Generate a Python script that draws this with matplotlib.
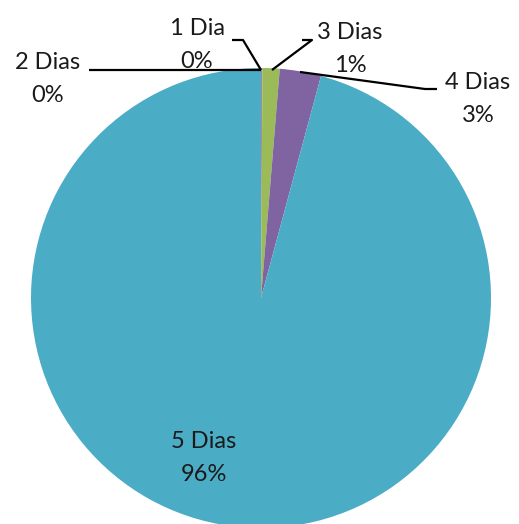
import matplotlib.pyplot as plt

dias = ['1 Dia', '2 Dias', '3 Dias', '4 Dias', '5 Dias']
percent = [0.05, 0.05, 1.2, 2.9, 95.8]
cores = ['#4F81BD', '#C0504D', '#9BBB59', '#8064A2', '#4BACC6']

# posicoes dos rotulos em pixels da imagem (centro x, centro y)
centro = (261, 298)
raio = 230
rotulos_px = [(197, 45), (48, 79), (350, 49), (478, 99), (204, 458)]
linhas_px = [
    [(232, 40), (243, 40), (261, 70)],
    [(89, 70), (261, 70)],
    [(302, 40), (312, 40), (272, 70)],
    [(300, 72), (425, 89), (437, 89)],
    None,
]


def px(p):
    return ((p[0] - centro[0]) / raio, (centro[1] - p[1]) / raio)


fig = plt.figure(figsize=(5.19, 5.24), dpi=100)
ax = fig.add_axes([(261 - 230) / 519, (524 - 298 - 230) / 524, 460 / 519, 460 / 524])
ax.pie(percent, colors=cores, startangle=90, counterclock=False,
       wedgeprops={'linewidth': 0}, radius=1)
ax.set_xlim(-1, 1)
ax.set_ylim(-1, 1)
ax.set_aspect('equal')
ax.axis('off')

for nome, valor, pos, linha in zip(dias, percent, rotulos_px, linhas_px):
    x, y = px(pos)
    ax.text(x, y, f'{nome}\n{valor:.0f}%', ha='center', va='center',
            fontsize=17, family=['Lato', 'DejaVu Sans'],
            linespacing=1.65, color='#1a1a1a', clip_on=False)
    if linha:
        xs = [px(p)[0] for p in linha]
        ys = [px(p)[1] for p in linha]
        ax.plot(xs, ys, color='black', lw=1.6, clip_on=False,
                solid_capstyle='butt')

fig.savefig('out.png', dpi=100)
